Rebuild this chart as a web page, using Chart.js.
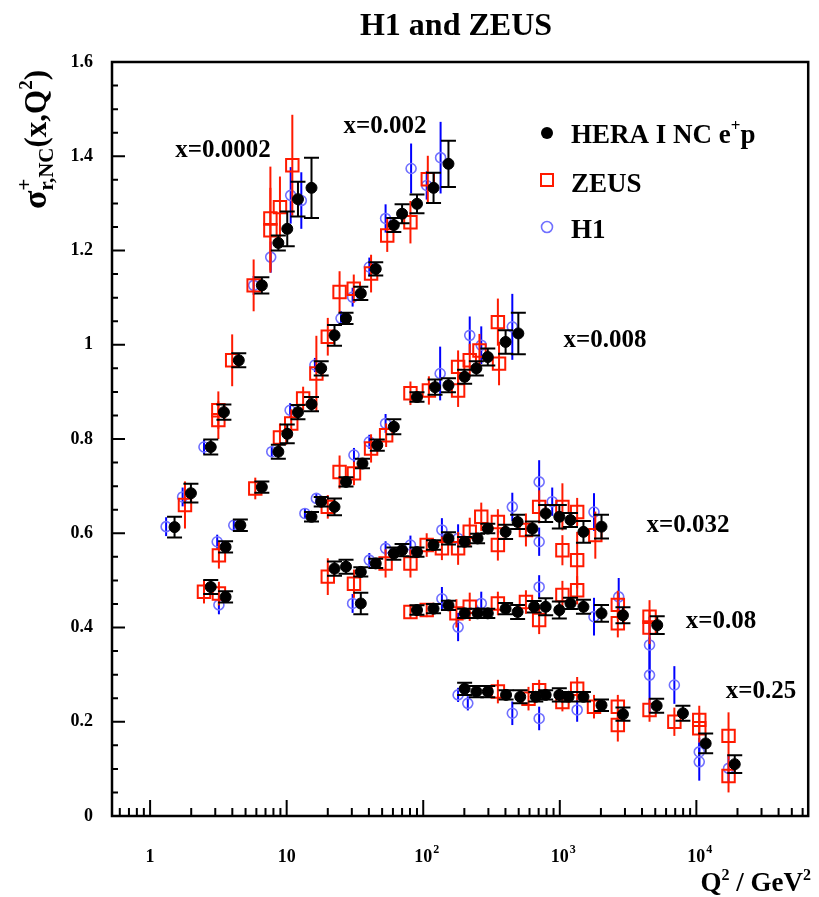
<!DOCTYPE html>
<html>
<head>
<meta charset="utf-8">
<script src="https://cdn.jsdelivr.net/npm/chart.js@4.4.0/dist/chart.umd.min.js"></script>
<style>
  html, body { margin: 0; padding: 0; background: #ffffff; }
  #wrap { width: 819px; height: 897px; }
</style>
</head>
<body>
<div id="wrap"><canvas id="sigmaChart" width="819" height="897"></canvas></div>
<script>
// ---- data: Q2 (GeV^2), reduced cross section, error ----
var heraQ2 = [
  1.51, 1.99, 2.78, 3.47, 4.46, 6.58, 8.69, 10.1, 12.1, 15.2,
  2.78, 3.57, 3.57, 4.58, 6.58, 8.69, 10.1, 12.1, 15.2, 17.9, 22.4, 27.2, 34.9, 44.9, 60.9, 70, 90, 119, 153,
  15.2, 17.9, 22.4, 27.2, 35.9, 46.1, 60.9, 90, 122, 153, 201, 245, 297, 401, 497,
  22.4, 27.2, 34.9, 34.9, 44.9, 60.9, 70, 90, 119, 153, 201, 250, 297, 401, 491, 630, 788, 992, 1197, 1490, 2020,
  90, 119, 153, 201, 250, 297, 401, 491, 649, 788, 992, 1197, 1490, 2020, 2900, 5170,
  201, 245, 297, 404, 513, 667, 788, 992, 1160, 1490, 2020, 2900, 5120, 7970, 11700, 19100
];
var heraSigma = [
  0.613, 0.685, 0.783, 0.857, 0.967, 1.126, 1.216, 1.246, 1.309, 1.333,
  0.486, 0.465, 0.571, 0.617, 0.698, 0.773, 0.811, 0.857, 0.874, 0.950, 1.020, 1.056, 1.109, 1.161, 1.254, 1.278, 1.299, 1.333, 1.384,
  0.635, 0.667, 0.656, 0.709, 0.748, 0.787, 0.826, 0.889, 0.910, 0.914, 0.932, 0.950, 0.974, 1.006, 1.024,
  0.525, 0.529, 0.518, 0.451, 0.536, 0.557, 0.564, 0.560, 0.575, 0.589, 0.582, 0.589, 0.610, 0.603, 0.624, 0.610, 0.642, 0.635, 0.628, 0.603, 0.614,
  0.437, 0.440, 0.447, 0.430, 0.430, 0.430, 0.440, 0.433, 0.444, 0.444, 0.437, 0.451, 0.444, 0.430, 0.426, 0.405,
  0.270, 0.264, 0.264, 0.257, 0.253, 0.253, 0.257, 0.257, 0.253, 0.253, 0.235, 0.216, 0.234, 0.218, 0.154, 0.110
];
var heraErr = [
  0.022, 0.020, 0.016, 0.016, 0.015, 0.017, 0.016, 0.037, 0.037, 0.064,
  0.015, 0.012, 0.012, 0.012, 0.012, 0.015, 0.020, 0.015, 0.015, 0.015, 0.022, 0.012, 0.014, 0.014, 0.015, 0.020, 0.020, 0.032, 0.049,
  0.010, 0.010, 0.018, 0.010, 0.010, 0.012, 0.016, 0.010, 0.016, 0.015, 0.015, 0.015, 0.018, 0.025, 0.044,
  0.015, 0.015, 0.010, 0.023, 0.010, 0.013, 0.013, 0.010, 0.010, 0.013, 0.010, 0.010, 0.010, 0.015, 0.015, 0.015, 0.018, 0.025, 0.015, 0.023, 0.025,
  0.010, 0.010, 0.010, 0.010, 0.010, 0.010, 0.012, 0.015, 0.012, 0.018, 0.018, 0.012, 0.015, 0.018, 0.017, 0.019,
  0.013, 0.012, 0.012, 0.010, 0.014, 0.010, 0.010, 0.014, 0.010, 0.010, 0.012, 0.014, 0.015, 0.016, 0.021, 0.019
];

var zeusQ2 = [
  1.80, 3.16, 3.16, 3.99, 5.73, 7.60, 7.60, 8.93, 11.0,
  2.48, 3.19, 3.19, 5.89, 8.93, 10.8, 13.2, 16.5, 20.0, 24.4, 31.0, 41.5, 54.5, 80.6, 108,
  20.0, 24.4, 31.1, 41.5, 53.5, 80.6, 110, 180, 180, 219, 258, 352, 359,
  20.0, 31.1, 53, 80.6, 106, 137, 180, 219, 266, 352, 352, 565, 706, 1045, 1045, 1340, 1340, 1820,
  80.6, 106, 175, 219, 352, 565, 706, 1045, 1340, 2660, 2660, 4540, 4540,
  352, 590, 706, 1045, 1340, 1780, 2660, 2660, 4540, 6900, 10500, 10500, 17200, 17200
];
var zeusSigma = [
  0.660, 0.861, 0.840, 0.967, 1.126, 1.268, 1.243, 1.292, 1.381,
  0.476, 0.472, 0.553, 0.695, 0.803, 0.833, 0.886, 0.939, 1.017, 1.112, 1.119, 1.151, 1.232, 1.260, 1.351,
  0.656, 0.730, 0.727, 0.780, 0.808, 0.897, 0.903, 0.903, 0.953, 0.967, 0.988, 1.048, 0.960,
  0.508, 0.493, 0.536, 0.536, 0.575, 0.568, 0.568, 0.603, 0.635, 0.624, 0.575, 0.607, 0.656, 0.656, 0.564, 0.645, 0.543, 0.596,
  0.433, 0.437, 0.430, 0.444, 0.451, 0.454, 0.416, 0.469, 0.479, 0.448, 0.409, 0.423, 0.400,
  0.264, 0.249, 0.267, 0.242, 0.270, 0.232, 0.232, 0.193, 0.225, 0.200, 0.204, 0.186, 0.170, 0.085
];
var zeusErr = [
  0.050, 0.040, 0.040, 0.055, 0.055, 0.110, 0.090, 0.065, 0.107,
  0.025, 0.025, 0.028, 0.023, 0.030, 0.030, 0.025, 0.080, 0.040, 0.044, 0.030, 0.040, 0.035, 0.045, 0.050,
  0.025, 0.035, 0.025, 0.030, 0.025, 0.025, 0.030, 0.035, 0.035, 0.035, 0.035, 0.050, 0.046,
  0.039, 0.030, 0.030, 0.030, 0.025, 0.025, 0.035, 0.030, 0.030, 0.027, 0.033, 0.035, 0.035, 0.050, 0.032, 0.030, 0.060, 0.050,
  0.015, 0.015, 0.030, 0.030, 0.025, 0.025, 0.030, 0.030, 0.030, 0.030, 0.030, 0.035, 0.035,
  0.025, 0.025, 0.022, 0.020, 0.025, 0.025, 0.025, 0.035, 0.025, 0.030, 0.030, 0.030, 0.050, 0.035
];

var h1Q2 = [
  1.31, 1.73, 2.48, 5.73, 7.64, 10.7, 12.8,
  3.19, 3.10, 4.10, 7.78, 10.6, 16.1, 25.0, 30.4, 40.3, 53.0, 81.5, 106, 134,
  13.6, 16.5, 31.1, 40.3, 53.0, 133, 219, 266, 449,
  30.4, 40.3, 53, 80.6, 137, 180, 449, 706, 706, 880, 1780,
  137, 180, 266, 706, 1780, 2700, 4540, 4540,
  180, 212, 449, 706, 1340, 6900, 10500, 10500, 17200
];
var h1Sigma = [
  0.614, 0.677, 0.783, 1.126, 1.186, 1.317, 1.306,
  0.448, 0.582, 0.617, 0.773, 0.861, 0.957, 1.056, 1.101, 1.165, 1.268, 1.374, 1.338, 1.397,
  0.642, 0.674, 0.766, 0.794, 0.833, 0.939, 1.020, 0.999, 1.038,
  0.451, 0.543, 0.568, 0.575, 0.607, 0.589, 0.656, 0.709, 0.582, 0.667, 0.645,
  0.461, 0.401, 0.451, 0.486, 0.423, 0.465, 0.363, 0.299,
  0.257, 0.239, 0.218, 0.207, 0.225, 0.278, 0.136, 0.115, 0.101
];
var h1Err = [
  0.020, 0.020, 0.015, 0.020, 0.033, 0.060, 0.060,
  0.020, 0.015, 0.012, 0.012, 0.015, 0.015, 0.015, 0.020, 0.020, 0.030, 0.053, 0.030, 0.076,
  0.010, 0.010, 0.015, 0.015, 0.020, 0.057, 0.040, 0.040, 0.070,
  0.020, 0.015, 0.015, 0.020, 0.025, 0.030, 0.030, 0.046, 0.030, 0.030, 0.040,
  0.025, 0.030, 0.025, 0.025, 0.040, 0.040, 0.060, 0.080,
  0.015, 0.015, 0.025, 0.025, 0.025, 0.040, 0.030, 0.040, 0.030
];

var binLabels = ["x=0.0002", "x=0.002", "x=0.008", "x=0.032", "x=0.08", "x=0.25"];
var yTickLabels = ["0", "0.2", "0.4", "0.6", "0.8", "1", "1.2", "1.4", "1.6"];
var xTickLabels = [["1", ""], ["10", ""], ["10", "2"], ["10", "3"], ["10", "4"]];
var legendLabels = ["HERA I NC e", "ZEUS", "H1"];

var SERIF = '"Liberation Serif", "DejaVu Serif", serif';

function toPoints(qs, ss) {
    return qs.map(function (q, i) { return { x: q, y: ss[i] }; });
}

// draws a run of text pieces: [text, size, dy, keepX]
function richText(ctx, parts, x, y) {
    var cx = x, stackStart = null;
    parts.forEach(function (p) {
        ctx.font = "bold " + p[1] + "px " + SERIF;
        var start = (stackStart !== null) ? stackStart : cx;
        ctx.fillText(p[0], start, y + p[2]);
        var w = ctx.measureText(p[0]).width;
        if (p[3]) { stackStart = start; cx = Math.max(cx, start + w); }
        else { cx = Math.max(cx, start + w); stackStart = null; }
    });
    return cx - x;
}

var errorBars = {
    id: "errorBars",
    beforeDatasetDraw: function (chart, args) {
        var ds = chart.data.datasets[args.index];
        if (!ds.errors) return;
        var xs = chart.scales.x, ys = chart.scales.y, ctx = chart.ctx;
        ctx.save();
        ctx.strokeStyle = ds.errColor;
        ctx.lineWidth = ds.errWidth;
        ds.data.forEach(function (p, i) {
            var px = xs.getPixelForValue(p.x);
            var top = ys.getPixelForValue(p.y + ds.errors[i]);
            var bot = ys.getPixelForValue(p.y - ds.errors[i]);
            ctx.beginPath();
            ctx.moveTo(px, top);
            ctx.lineTo(px, bot);
            if (ds.capHalf) {
                ctx.moveTo(px - ds.capHalf, top); ctx.lineTo(px + ds.capHalf, top);
                ctx.moveTo(px - ds.capHalf, bot); ctx.lineTo(px + ds.capHalf, bot);
            }
            ctx.stroke();
        });
        ctx.restore();
    }
};

var decor = {
    id: "decor",
    afterDraw: function (chart) {
        var ctx = chart.ctx, a = chart.chartArea;
        var xs = chart.scales.x, ys = chart.scales.y;
        ctx.save();
        ctx.fillStyle = "#000";
        ctx.strokeStyle = "#000";

        // frame
        ctx.lineWidth = 2.5;
        ctx.strokeRect(a.left, a.top, a.right - a.left, a.bottom - a.top);

        // inward ticks
        ctx.lineWidth = 2;
        ctx.beginPath();
        for (var k = 0; k <= 32; k++) {
            var py = ys.getPixelForValue(k * 0.05);
            var len = (k % 4 === 0) ? 13 : 6;
            ctx.moveTo(a.left, py); ctx.lineTo(a.left + len, py);
        }
        for (var d = -1; d <= 4; d++) {
            for (var m = 1; m <= 9; m++) {
                var v = m * Math.pow(10, d);
                if (v < xs.min || v > xs.max) continue;
                var px = xs.getPixelForValue(v);
                var l = (m === 1) ? 16 : 8;
                ctx.moveTo(px, a.bottom); ctx.lineTo(px, a.bottom - l);
            }
        }
        ctx.stroke();

        // y tick labels
        ctx.font = "bold 18px " + SERIF;
        ctx.textAlign = "right";
        ctx.textBaseline = "middle";
        yTickLabels.forEach(function (t, i) {
            ctx.fillText(t, 93, ys.getPixelForValue(i * 0.2));
        });

        // x tick labels
        ctx.textBaseline = "alphabetic";
        xTickLabels.forEach(function (t, i) {
            var px = xs.getPixelForValue(Math.pow(10, i));
            ctx.font = "bold 18px " + SERIF;
            ctx.textAlign = "center";
            ctx.fillText(t[0], px, 862);
            if (t[1]) {
                var w = ctx.measureText(t[0]).width;
                ctx.font = "bold 12px " + SERIF;
                ctx.textAlign = "left";
                ctx.fillText(t[1], px + w / 2 + 1, 853);
            }
        });

        // title
        ctx.font = "bold 32px " + SERIF;
        ctx.textAlign = "center";
        ctx.fillText("H1 and ZEUS", 456, 35);

        // x axis title, right aligned
        ctx.textAlign = "left";
        var xt = [["Q", 27, 0], ["2", 16, -11], [" / GeV", 27, 0], ["2", 16, -11]];
        ctx.globalAlpha = 0;
        var wx = richText(ctx, xt, 0, -100);
        ctx.globalAlpha = 1;
        richText(ctx, xt, 811 - wx, 891);

        // y axis title, rotated
        ctx.save();
        ctx.translate(46, 209);
        ctx.rotate(-Math.PI / 2);
        richText(ctx, [["\u03c3", 34, 0], ["+", 21, -15, true], ["r,NC", 21, 7], ["(x,Q", 31, 0], ["2", 19, -14], [")", 31, 0]], 0, 0);
        ctx.restore();

        // bin labels
        ctx.font = "bold 25px " + SERIF;
        ctx.textAlign = "center";
        var binPos = [[223, 157], [385, 133], [605, 347], [688, 532], [721, 628], [761, 698]];
        binLabels.forEach(function (t, i) { ctx.fillText(t, binPos[i][0], binPos[i][1]); });

        // legend
        var lx = 547;
        ctx.beginPath(); ctx.arc(lx, 133, 6, 0, Math.PI * 2); ctx.fill();
        ctx.strokeStyle = "#ff1a00"; ctx.lineWidth = 2;
        ctx.strokeRect(lx - 6, 174, 12, 12);
        ctx.strokeStyle = "#7070ff"; ctx.lineWidth = 1.6;
        ctx.beginPath(); ctx.arc(lx, 227, 5.5, 0, Math.PI * 2); ctx.stroke();
        ctx.textAlign = "left";
        richText(ctx, [[legendLabels[0], 27, 0], ["+", 17, -12], ["p", 27, 0]], 571, 143);
        richText(ctx, [[legendLabels[1], 27, 0]], 571, 192);
        richText(ctx, [[legendLabels[2], 27, 0]], 571, 238);

        ctx.restore();
    }
};

var ctx = document.getElementById("sigmaChart").getContext("2d");
var sigmaChart = new Chart(ctx, {
    type: "scatter",
    data: {
        datasets: [{
            label: "HERA I NC e+p",
            data: toPoints(heraQ2, heraSigma),
            errors: heraErr,
            errColor: "#000000",
            errWidth: 2,
            capHalf: 7.5,
            pointStyle: "circle",
            pointRadius: 5.5,
            backgroundColor: "#000000",
            borderColor: "#000000",
            borderWidth: 1
        }, {
            label: "ZEUS",
            data: toPoints(zeusQ2, zeusSigma),
            errors: zeusErr,
            errColor: "#ff1a00",
            errWidth: 2,
            pointStyle: "rect",
            pointRadius: 8.8,
            backgroundColor: "rgba(0,0,0,0)",
            borderColor: "#ff1a00",
            borderWidth: 2
        }, {
            label: "H1",
            data: toPoints(h1Q2, h1Sigma),
            errors: h1Err,
            errColor: "#0000ff",
            errWidth: 2,
            pointStyle: "circle",
            pointRadius: 5,
            backgroundColor: "rgba(0,0,0,0)",
            borderColor: "#7070ff",
            borderWidth: 1.6
        }]
    },
    options: {
        responsive: false,
        animation: false,
        events: [],
        layout: { padding: { top: 62, right: 4, bottom: 0, left: 0 } },
        scales: {
            x: {
                type: "logarithmic",
                min: 0.526,
                max: 65900,
                grid: { display: false },
                border: { display: false },
                ticks: { display: false },
                afterFit: function (scale) { scale.height = 81; }
            },
            y: {
                type: "linear",
                min: 0,
                max: 1.6,
                grid: { display: false },
                border: { display: false },
                ticks: { display: false },
                afterFit: function (scale) { scale.width = 112; }
            }
        },
        plugins: {
            legend: { display: false },
            title: { display: false },
            tooltip: { enabled: false }
        }
    },
    plugins: [errorBars, decor]
});
</script>
</body>
</html>
